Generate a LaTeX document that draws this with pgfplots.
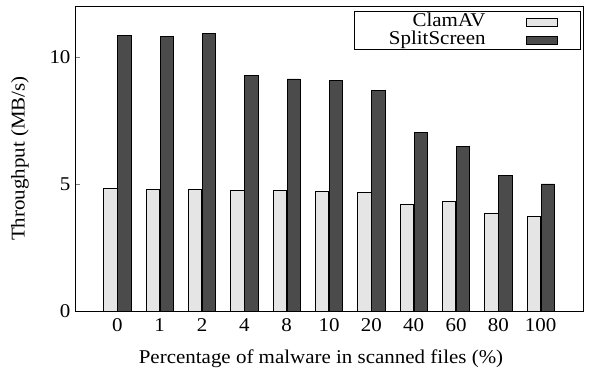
\documentclass[border=0pt]{standalone}
\usepackage{pgfplots}
\pgfplotsset{compat=1.18}
\usepackage{fontspec}
\setmainfont[FakeStretch=1.075]{Liberation Serif}
\definecolor{clam}{HTML}{E5E5E5}
\definecolor{split}{HTML}{4B4B4B}
\begin{document}
\begin{tikzpicture}[font=\fontsize{19.5}{22}\selectfont]
\begin{axis}[
  scale only axis,
  width=508pt, height=305pt,
  xmin=-1, xmax=11,
  ymin=0, ymax=12,
  xtick={0,1,2,3,4,5,6,7,8,9,10},
  xticklabels={0,1,2,4,8,10,20,40,60,80,100},
  ytick={0,5,10},
  ytick pos=left,
  tick align=inside,
  major tick length=5pt,
  x tick style={draw=none},
  axis line style={line width=0.8pt},
  /pgf/number format/assume math mode=true,
  xticklabel style={yshift=-4pt},
  yticklabel style={xshift=-1pt},
  xlabel={Percentage of malware in scanned files (\%)},
  ylabel={Throughput (MB/s)},
  every axis x label/.style={at={([yshift=-48pt,xshift=-8pt]rel axis cs:0.5,0)}, anchor=center},
  every axis y label/.style={at={([xshift=-55pt]rel axis cs:0,0.5)}, anchor=center, rotate=90},
  legend plot pos=right,
  legend style={at={(rel axis cs:0.996,0.982)}, anchor=north east, draw=black, line width=0.8pt, inner sep=1pt, row sep=0pt, column sep=0pt, nodes={inner sep=0pt, text height=13.5pt, text depth=4.5pt}},
  legend image code/.code={\draw[#1, line width=0.7pt] (0pt,-4pt) rectangle (31pt,4pt); \path[draw=none,fill=none] (-41pt,0) rectangle (53pt,0.1pt);},
]
\addplot[ybar, bar width=0.31, bar shift=-0.165, fill=clam, draw=black, line width=0.7pt] coordinates {
(0,4.82) (1,4.80) (2,4.79) (3,4.74) (4,4.74) (5,4.70) (6,4.66) (7,4.21) (8,4.32) (9,3.85) (10,3.71)};
\addlegendentry{\makebox[130pt][r]{ClamAV}}
\addplot[ybar, bar width=0.31, bar shift=0.165, fill=split, draw=black, line width=0.7pt] coordinates {
(0,10.83) (1,10.79) (2,10.93) (3,9.26) (4,9.13) (5,9.07) (6,8.67) (7,7.02) (8,6.47) (9,5.35) (10,5.00)};
\addlegendentry{\makebox[130pt][r]{SplitScreen}}
\end{axis}
\pgfresetboundingbox
\path ([xshift=-75pt,yshift=-59pt]current axis.south west) rectangle ([xshift=6pt,yshift=6pt]current axis.north east);
\end{tikzpicture}
\end{document}
